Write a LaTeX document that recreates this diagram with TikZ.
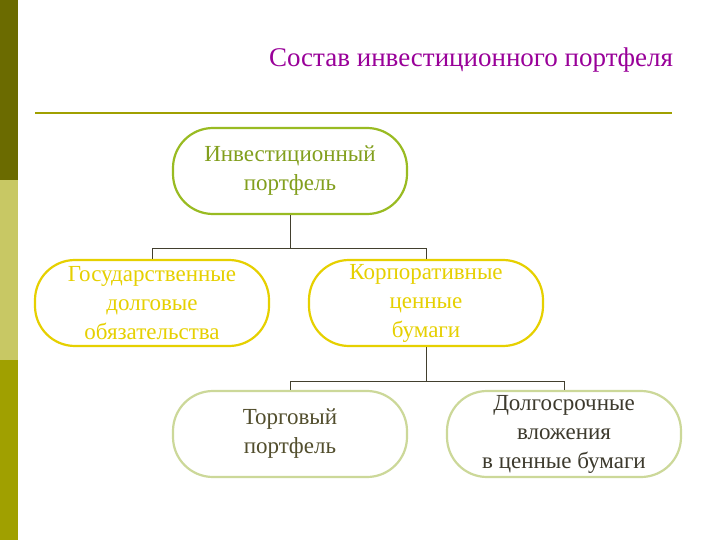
\documentclass[tikz,border=0pt]{standalone}
\usepackage{fontspec}
\setmainfont{Liberation Serif}
\begin{document}
\begin{tikzpicture}[x=1pt,y=-1pt,
  box/.style={draw,line width=2.2pt,rounded corners=40pt,minimum width=234pt,minimum height=86pt,inner sep=0pt,align=center,font=\fontsize{23}{29}\selectfont,fill=white},
  conn/.style={draw=black!70!olive,line width=0.8pt}]
\definecolor{barA}{HTML}{6B6B00}\definecolor{barB}{HTML}{C8C864}\definecolor{barC}{HTML}{A0A000}
\definecolor{rootc}{HTML}{99BB22}\definecolor{yel}{HTML}{E6D000}\definecolor{lgr}{HTML}{CCD899}
\definecolor{ttl}{HTML}{990099}
\useasboundingbox (0,0) rectangle (720,540);
\fill[white] (0,0) rectangle (720,540);
\fill[barA] (0,0) rectangle (18,180);
\fill[barB] (0,180) rectangle (18,360);
\fill[barC] (0,360) rectangle (18,540);
\node[text=ttl,font=\fontsize{27}{30}\selectfont] (t) at (471,60) {Состав инвестиционного портфеля};
\draw[barC,line width=1.5pt] (35,113) -- (672,113);
\node[box,draw=rootc,text=rootc!85!black] (r) at (290,171) {Инвестиционный\\портфель};
\node[box,draw=yel,text=yel] (g) at (152,303) {Государственные\\долговые\\обязательства};
\node[box,draw=yel,text=yel] (c) at (426,303) {Корпоративные\\ценные\\бумаги};
\node[box,draw=lgr,text=black!55!olive] (tr) at (290,434) {Торговый\\портфель};
\node[box,draw=lgr,text=black!75!olive] (l) at (564,434) {Долгосрочные\\вложения\\в ценные бумаги};
\draw[conn] (r.south) -- ++(0,33) -| (g.north);
\draw[conn] (r.south) ++(0,33) -| (c.north);
\draw[conn] (c.south) -- ++(0,34) -| (tr.north);
\draw[conn] (c.south) ++(0,34) -| (l.north);
\end{tikzpicture}
\end{document}
